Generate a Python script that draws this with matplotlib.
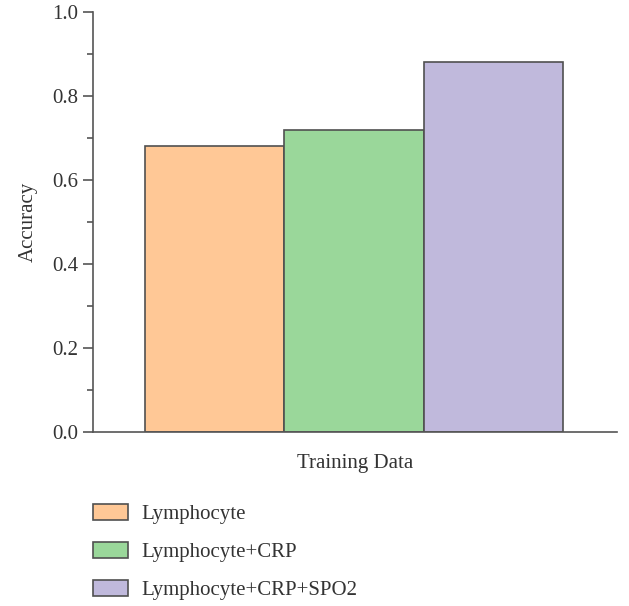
import matplotlib
matplotlib.use("Agg")
import matplotlib.pyplot as plt
from matplotlib.patches import Patch
from matplotlib.ticker import MultipleLocator

categories = ["Lymphocyte", "Lymphocyte+CRP", "Lymphocyte+CRP+SPO2"]
accuracy = [0.68, 0.72, 0.88]
colors = ["#FFC896", "#9AD79A", "#C0B9DC"]

plt.rcParams['font.family'] = ['Liberation Serif', 'DejaVu Serif']

fig = plt.figure(figsize=(6.29, 6.06), dpi=100)
ax = fig.add_axes([93/629, (606-432)/606, (617-93)/629, (432-12)/606])

axis_col = "#555555"
txt_col = "#333333"
x = range(len(categories))
ax.bar(x, accuracy, width=1.0, color=colors, edgecolor="#505050", linewidth=1.2)

ax.set_xlim(-0.873, 2.888)
ax.set_ylim(0, 1.0)
ax.set_xticks([])
ax.yaxis.set_major_locator(MultipleLocator(0.2))
ax.yaxis.set_minor_locator(MultipleLocator(0.1))
ax.tick_params(axis='y', which='major', length=7, width=1.2, color=axis_col, labelsize=15, labelcolor=txt_col, direction='out')
ax.tick_params(axis='y', which='minor', length=4, width=1.2, color=axis_col, direction='out')
ax.yaxis.set_major_formatter(plt.FuncFormatter(lambda v, p: f"{v:.1f}"))

for s in ["top", "right"]:
    ax.spines[s].set_visible(False)
for s in ["left", "bottom"]:
    ax.spines[s].set_color(axis_col)
    ax.spines[s].set_linewidth(1.2)

ax.set_ylabel("Accuracy", fontsize=15, color=txt_col, labelpad=10.5)
ax.set_xlabel("Training Data", fontsize=15, color=txt_col, labelpad=16)

handles = [Patch(facecolor=c, edgecolor="#505050", linewidth=1.2, label=l) for c, l in zip(colors, categories)]
fig.legend(handles=handles, loc="upper left", bbox_to_anchor=(93/629, 1 - 504/606),
           frameon=False, fontsize=15, handlelength=1.68, handleheight=0.8,
           labelspacing=0.85, handletextpad=0.63, borderpad=0, borderaxespad=0,
           labelcolor=txt_col)

fig.savefig("out.png", dpi=100)
